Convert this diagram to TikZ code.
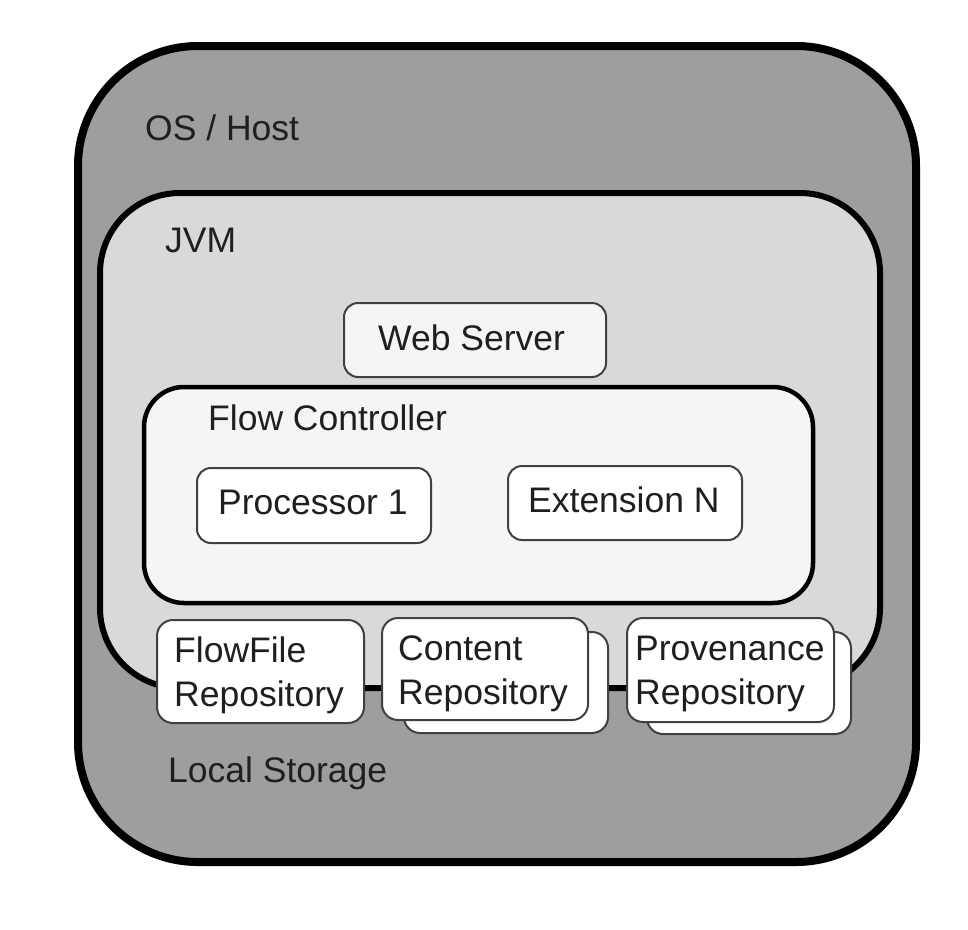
\documentclass[tikz,border=0pt]{standalone}
\usepackage{fontspec}
\setmainfont{Liberation Sans}
\begin{document}
\begin{tikzpicture}[x=1pt,y=-1pt,
  lbl/.style={anchor=base west, inner sep=0pt, font=\fontsize{35.5}{43.5}\selectfont, text=black!88},
  mlbl/.style={lbl, align=left},
  osbox/.style={draw=black, line width=8pt, fill=black!38, rounded corners=120pt, rectangle, inner sep=0pt},
  jvmbox/.style={draw=black, line width=6pt, fill=black!15, rounded corners=80pt, rectangle, inner sep=0pt},
  fcbox/.style={draw=black, line width=4.5pt, fill=black!4, rounded corners=40pt, rectangle, inner sep=0pt},
  smallbox/.style={draw=black!75, line width=2pt, rounded corners=14pt, rectangle, inner sep=0pt},
  repobox/.style={draw=black!75, line width=2pt, fill=white, rounded corners=16pt, rectangle, inner sep=0pt}
]
\useasboundingbox (0,0) rectangle (968,929);
\fill[white] (0,0) rectangle (968,929);
% OS / Host
\node[osbox, minimum width=838pt, minimum height=816pt] (os) at (497,454) {};
\node[lbl] (oslabel) at (145,140) {OS / Host};
% JVM
\node[jvmbox, minimum width=780pt, minimum height=495pt] (jvm) at (490,440.5) {};
\node[lbl] (jvmlabel) at (165,252) {JVM};
% Web server
\node[smallbox, fill=black!4, minimum width=262pt, minimum height=74pt] (web) at (475,340) {};
\node[lbl] (weblabel) at (378,350) {Web Server};
% Flow controller
\node[fcbox, minimum width=669pt, minimum height=216pt] (fc) at (478.5,495) {};
\node[lbl] (fclabel) at (208,430) {Flow Controller};
\node[smallbox, fill=white, minimum width=234pt, minimum height=75pt] (proc) at (314,505.5) {};
\node[lbl] (proclabel) at (218,514) {Processor 1};
\node[smallbox, fill=white, minimum width=234pt, minimum height=74pt] (ext) at (625,503) {};
\node[lbl] (extlabel) at (528,512) {Extension N};
% Repositories
\node[repobox, minimum width=207pt, minimum height=103pt] (ffrepo) at (260.5,671.5) {};
\node[mlbl] (fflabel) at (174,706) {FlowFile\\Repository};
\node[repobox, minimum width=204pt, minimum height=101pt] (crepoback) at (506,682.5) {};
\node[repobox, minimum width=206pt, minimum height=102pt] (crepo) at (485,669) {};
\node[mlbl] (clabel) at (398,704) {Content\\Repository};
\node[repobox, minimum width=204pt, minimum height=102pt] (prepoback) at (749,683) {};
\node[repobox, minimum width=207pt, minimum height=104pt] (prepo) at (730.5,670) {};
\node[mlbl] (plabel) at (635,704) {Provenance\\Repository};
% Local storage
\node[lbl] (lslabel) at (168,782) {Local Storage};
\end{tikzpicture}
\end{document}
